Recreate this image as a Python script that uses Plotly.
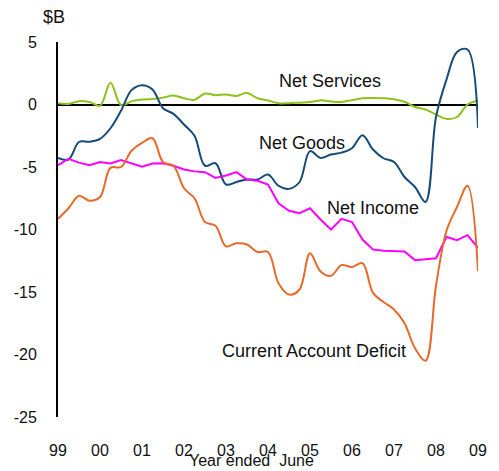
import plotly.graph_objects as go

# Quarterly observations, year ended June, 1999 to 2009
n_quarters = 41
x_vals = [1999 + 0.25 * i for i in range(n_quarters)]

net_services = [0.1, 0.05, 0.27, 0.2, -0.1, 1.75, -0.05, 0.25, 0.4, 0.45,
                0.55, 0.72, 0.5, 0.38, 0.88, 0.75, 0.8, 0.68, 0.93, 0.5,
                0.32, 0.1, 0.1, 0.15, 0.2, 0.33, 0.25, 0.2, 0.35, 0.5,
                0.53, 0.5, 0.42, 0.22, -0.2, -0.4, -0.8, -1.15, -1.0, 0.0, 0.3]

net_goods = [-4.27, -4.4, -3.0, -2.98, -2.75, -1.9, -0.5, 1.15, 1.55, 1.2,
             -0.3, -0.75, -1.6, -2.5, -4.9, -4.7, -6.4, -6.2, -6.0, -6.0,
             -5.6, -6.5, -6.75, -6.2, -3.73, -4.27, -4.0, -3.85, -3.5, -2.45,
             -3.6, -4.3, -4.6, -5.8, -6.6, -7.8, -1.0, 2.0, 4.2, 4.4, -1.87]

net_income = [-4.85, -4.35, -4.65, -4.85, -4.6, -4.72, -4.45, -4.7, -4.98, -4.72,
              -4.7, -4.9, -5.2, -5.35, -5.41, -5.87, -5.68, -5.41, -6.0, -6.1,
              -6.4, -7.9, -8.5, -8.7, -8.3, -9.2, -10.0, -9.15, -9.4, -10.8,
              -11.6, -11.7, -11.7, -11.75, -12.45, -12.35, -12.3, -10.6, -10.85, -10.45, -11.47]

current_account = [-9.15, -8.3, -7.3, -7.7, -7.4, -5.07, -5.0, -3.7, -3.07, -2.7,
                   -4.6, -4.9, -6.7, -7.5, -9.4, -9.7, -11.35, -11.1, -11.2, -11.8,
                   -11.8, -14.3, -15.2, -14.8, -11.9, -13.35, -13.7, -12.85, -13.0, -12.7,
                   -15.07, -15.8, -16.4, -17.5, -19.5, -20.5, -14.5, -10.1, -8.2, -6.5, -13.33]

year_ticks = list(range(1999, 2010))
year_labels = ["99", "00", "01", "02", "03", "04", "05", "06", "07", "08", "09"]
y_ticks = [5, 0, -5, -10, -15, -20, -25]
y_labels = ["5", "0", "-5", "-10", "-15", "-20", "-25"]

FONT = "Liberation Sans, Arial, sans-serif"

fig = go.Figure()
fig.add_trace(go.Scatter(x=x_vals, y=net_services, mode="lines",
                         line=dict(color="#8CC21A", width=2, shape="spline"),
                         name="Net Services", showlegend=False))
fig.add_trace(go.Scatter(x=x_vals, y=net_goods, mode="lines",
                         line=dict(color="#144B78", width=2, shape="spline"),
                         name="Net Goods", showlegend=False))
fig.add_trace(go.Scatter(x=x_vals, y=net_income, mode="lines",
                         line=dict(color="#FF00FF", width=2, shape="linear"),
                         name="Net Income", showlegend=False))
fig.add_trace(go.Scatter(x=x_vals, y=current_account, mode="lines",
                         line=dict(color="#E8692A", width=2, shape="spline"),
                         name="Current Account Deficit", showlegend=False))

labels = [
    ("Net Services", 2005.48, 1.85),
    ("Net Goods", 2004.81, -3.05),
    ("Net Income", 2006.5, -8.3),
    ("Current Account Deficit", 2005.1, -19.7),
]
for text, xv, yv in labels:
    fig.add_annotation(x=xv, y=yv, text=text, showarrow=False,
                       font=dict(family=FONT, size=18, color="#111111"))

fig.add_annotation(xref="paper", yref="paper", x=0.021, y=1.0, yshift=25,
                   text="$B", showarrow=False, xanchor="right", yanchor="middle",
                   font=dict(family=FONT, size=18, color="#111111"))
fig.add_annotation(xref="paper", yref="paper", x=0.46, y=0, yshift=-43,
                   text="Year ended  June", showarrow=False, yanchor="middle",
                   font=dict(family=FONT, size=16, color="#111111"))

# The page body adds an 8 px offset, so the figure is sized to fit the window
fig.update_layout(
    width=491, height=463,
    margin=dict(l=50, r=21, t=34, b=54),
    paper_bgcolor="white", plot_bgcolor="white",
    font=dict(family=FONT, size=16, color="#111111"),
)
fig.update_xaxes(range=[1999, 2009], tickvals=year_ticks, ticktext=year_labels,
                 showgrid=False, zeroline=False, showline=False, ticks="",
                 ticklabelstandoff=22, tickfont=dict(size=16), automargin=False)
fig.update_yaxes(range=[-25, 5], tickvals=y_ticks, ticktext=y_labels, showgrid=False,
                 zeroline=True, zerolinecolor="black", zerolinewidth=2,
                 showline=True, linecolor="black", linewidth=2, ticks="",
                 ticklabelstandoff=16, tickfont=dict(size=16), automargin=False)

fig.write_html("out.html")
